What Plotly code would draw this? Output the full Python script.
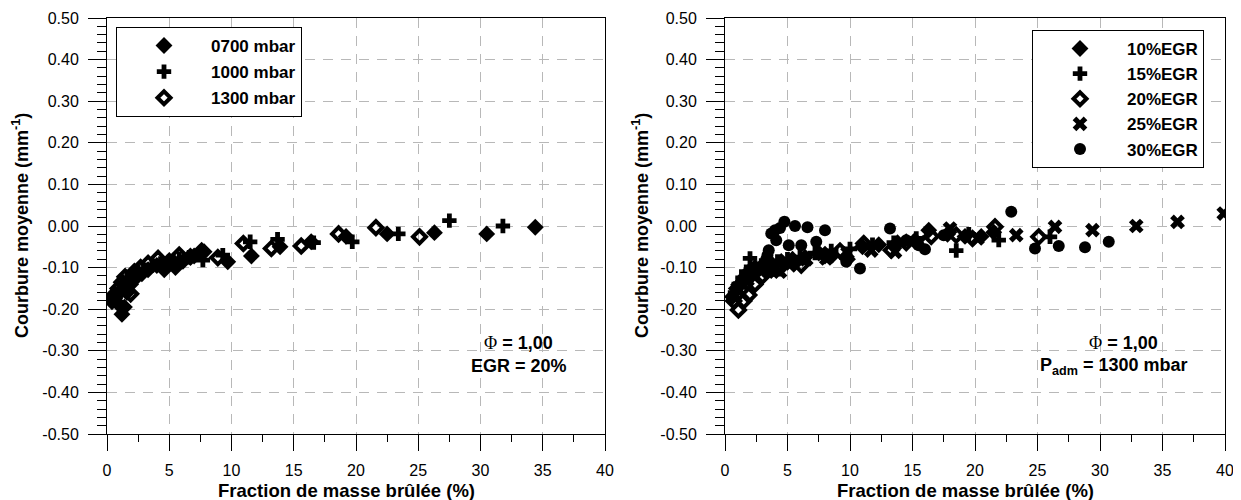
import plotly.graph_objects as go

# ---------------- data : left panel (Phi = 1.00, EGR = 20 %) ----------------
left_names = ["0700 mbar", "1000 mbar", "1300 mbar"]
p0700_x = [0.5, 0.8, 1.0, 1.2, 1.4, 1.6, 1.9, 2.3, 2.8, 3.3, 4.0, 4.6, 5.5, 6.1, 7.0,
           7.8, 9.7, 11.6, 13.9, 16.4, 19.2, 22.5, 26.3, 30.5, 34.4]
p0700_y = [-0.175, -0.165, -0.19, -0.212, -0.195, -0.16, -0.14, -0.125, -0.115, -0.105,
           -0.095, -0.105, -0.10, -0.085, -0.072, -0.062, -0.086, -0.072, -0.050, -0.038,
           -0.025, -0.019, -0.016, -0.019, -0.003]
p1000_x = [0.7, 1.0, 1.3, 1.6, 2.0, 2.5, 3.0, 3.6, 4.3, 5.0, 5.8, 6.6, 7.7, 9.3, 11.5,
           13.7, 16.6, 19.7, 23.4, 27.5, 31.8]
p1000_y = [-0.17, -0.155, -0.14, -0.13, -0.12, -0.11, -0.105, -0.095, -0.09, -0.085,
           -0.08, -0.075, -0.082, -0.07, -0.038, -0.032, -0.04, -0.038, -0.019, 0.013, 0.0]
p1300_x = [0.4, 0.6, 0.9, 1.2, 1.45, 1.9, 2.2, 2.7, 3.3, 4.1, 5.0, 5.8, 6.7, 7.6, 8.9,
           10.95, 13.2, 15.6, 18.6, 21.6, 25.1]
p1300_y = [-0.18, -0.165, -0.15, -0.135, -0.122, -0.163, -0.11, -0.10, -0.09, -0.078,
           -0.085, -0.07, -0.074, -0.06, -0.076, -0.042, -0.054, -0.048, -0.019, -0.004, -0.026]

# ---------------- data : right panel (Phi = 1.00, Padm = 1300 mbar) ----------------
right_names = ["10%EGR", "15%EGR", "20%EGR", "25%EGR", "30%EGR"]
e10_x = [0.6, 0.9, 1.2, 1.5, 1.9, 2.4, 3.0, 3.7, 4.5, 5.4, 6.4, 7.5, 8.6, 9.8, 11.0,
         12.3, 13.8, 15.2, 16.3, 17.8, 19.2, 20.5, 21.5]
e10_y = [-0.17, -0.15, -0.14, -0.125, -0.11, -0.10, -0.095, -0.09, -0.085, -0.08, -0.075,
         -0.065, -0.07, -0.08, -0.05, -0.045, -0.04, -0.035, -0.01, -0.02, -0.025, -0.025, -0.015]
e15_x = [0.8, 1.1, 1.4, 1.7, 2.0, 2.4, 2.9, 3.5, 4.2, 5.0, 6.0, 7.2, 8.5, 10.0, 11.8,
         13.5, 15.3, 18.5, 19.5, 21.9, 26.0]
e15_y = [-0.16, -0.14, -0.125, -0.11, -0.078, -0.10, -0.095, -0.09, -0.085, -0.08, -0.075,
         -0.065, -0.06, -0.055, -0.045, -0.04, -0.03, -0.059, -0.02, -0.034, -0.026]
e20_x = [0.7, 1.07, 1.5, 1.9, 2.4, 3.0, 3.7, 4.4, 5.5, 6.1, 8.0, 9.2, 11.1, 13.3, 14.5,
         16.5, 18.5, 19.8, 21.6, 25.1]
e20_y = [-0.18, -0.202, -0.18, -0.166, -0.14, -0.12, -0.105, -0.10, -0.09, -0.094, -0.07,
         -0.06, -0.042, -0.058, -0.04, -0.025, -0.022, -0.03, -0.002, -0.026]
e25_x = [1.0, 1.4, 1.8, 2.3, 2.9, 3.6, 4.4, 5.3, 6.5, 8.1, 9.8, 11.7, 13.6, 15.5, 18.0,
         20.2, 23.3, 26.4, 29.4, 32.9, 36.2, 39.9]
e25_y = [-0.15, -0.14, -0.13, -0.12, -0.11, -0.105, -0.11, -0.09, -0.08, -0.078, -0.065,
         -0.059, -0.062, -0.04, -0.006, -0.03, -0.022, -0.002, -0.01, 0.0, 0.010, 0.030]
e30_x = [3.3, 3.4, 3.5, 3.7, 4.0, 4.1, 4.4, 4.75, 5.1, 5.6, 6.1, 6.6, 7.3, 8.0, 9.7,
         10.8, 13.2, 14.5, 15.5, 16.0, 17.5, 22.9, 24.8, 26.7, 28.8, 30.7]
e30_y = [-0.08, -0.07, -0.058, -0.018, -0.01, -0.034, -0.005, 0.010, -0.046, 0.0, -0.046,
         -0.003, -0.038, -0.010, -0.086, -0.102, -0.006, -0.034, -0.046, -0.056, -0.022,
         0.034, -0.054, -0.048, -0.051, -0.038]

# ---------------- tick labels / titles ----------------
x_tickvals = [0, 5, 10, 15, 20, 25, 30, 35, 40]
x_ticktext = ["0", "5", "10", "15", "20", "25", "30", "35", "40"]
y_tickvals = [0.5, 0.4, 0.3, 0.2, 0.1, 0.0, -0.1, -0.2, -0.3, -0.4, -0.5]
y_ticktext = ["0.50", "0.40", "0.30", "0.20", "0.10", "0.00",
              "-0.10", "-0.20", "-0.30", "-0.40", "-0.50"]
x_title = "Fraction de masse brûlée (%)"
y_title = "Courbure moyenne (mm<sup>-1</sup>)"

FONT = "Liberation Sans, Arial, sans-serif"
PAGE_W, PAGE_H = 1241, 500
OFF = 8                      # default page body margin
W, H = PAGE_W - OFF, PAGE_H - OFF

# pixel geometry (page pixels)
L_X0, L_X1 = 107, 605
R_X0, R_X1 = 725, 1225
Y_TOP, Y_BOT = 18, 434


def px(x):
    return (x - OFF) / W


def py(y):
    return 1 - (y - OFF) / H


symbols = {
    "diamond": dict(symbol="diamond", size=13),
    "cross": dict(symbol="cross", size=12),
    "diamond-open": dict(symbol="diamond-open", size=10, line=dict(width=4, color="black")),
    "x": dict(symbol="x", size=13),
    "circle": dict(symbol="circle", size=12),
}

fig = go.Figure()

left_series = [(p0700_x, p0700_y, "diamond"), (p1000_x, p1000_y, "cross"),
               (p1300_x, p1300_y, "diamond-open")]
for name, (xs, ys, sym) in zip(left_names, left_series):
    fig.add_trace(go.Scatter(x=xs, y=ys, mode="markers", name=name,
                             marker=dict(color="black", **symbols[sym]),
                             xaxis="x", yaxis="y", legend="legend", legendgroup=name))

right_series = [(e10_x, e10_y, "diamond"), (e15_x, e15_y, "cross"),
                (e20_x, e20_y, "diamond-open"), (e25_x, e25_y, "x"),
                (e30_x, e30_y, "circle")]
for name, (xs, ys, sym) in zip(right_names, right_series):
    fig.add_trace(go.Scatter(x=xs, y=ys, mode="markers", name=name,
                             marker=dict(color="black", **symbols[sym]),
                             xaxis="x2", yaxis="y2", legend="legend2", legendgroup=name))

grid = dict(showgrid=True, gridcolor="#b8b8b8", gridwidth=1, griddash="10px,8px")

xax = dict(range=[0, 40], tickmode="array", tickvals=x_tickvals, ticktext=x_ticktext,
           ticks="outside", ticklen=16, tickcolor="black", automargin=False,
           ticklabelstandoff=6,
           showline=True, linecolor="black", linewidth=1, mirror=True, zeroline=False,
           tickfont=dict(family=FONT, size=16, color="black"),
           minor=dict(dtick=2.5, tick0=0, ticks="outside", ticklen=7, tickcolor="black",
                      showgrid=False),
           **grid)
yax = dict(range=[-0.5, 0.5], tickmode="array", tickvals=y_tickvals, ticktext=y_ticktext,
           ticks="outside", ticklen=18, tickcolor="black", automargin=False,
           ticklabelstandoff=6,
           showline=True, linecolor="black", linewidth=1, mirror=True,
           zeroline=False, tickfont=dict(family=FONT, size=16, color="black"),
           minor=dict(dtick=0.02, tick0=0, ticks="outside", ticklen=9, tickcolor="black",
                      showgrid=False),
           **grid)

legend_common = dict(bgcolor="white", bordercolor="black", borderwidth=1,
                     font=dict(family=FONT, size=17, color="black", weight="bold"),
                     itemwidth=84, itemclick=False, xanchor="left", yanchor="top")

fig.update_layout(
    width=W, height=H, autosize=False,
    margin=dict(l=0, r=0, t=0, b=0, autoexpand=False),
    paper_bgcolor="white", plot_bgcolor="white",
    font=dict(family=FONT, color="black"),
    xaxis=dict(domain=[px(L_X0), px(L_X1)], anchor="y", **xax),
    yaxis=dict(domain=[py(Y_BOT), py(Y_TOP)], anchor="x", **yax),
    xaxis2=dict(domain=[px(R_X0), px(R_X1)], anchor="y2", **xax),
    yaxis2=dict(domain=[py(Y_BOT), py(Y_TOP)], anchor="x2", **yax),
    legend=dict(x=px(116), y=py(27), tracegroupgap=1, **legend_common),
    legend2=dict(x=px(1032), y=py(30), tracegroupgap=0, **legend_common),
    showlegend=True,
)

ann_font = dict(family=FONT, size=18, color="black", weight="bold")
phi = "<span style='font-family:Liberation Serif;font-weight:normal'>Φ</span> = 1,00"
annotations = [
    dict(text=phi, x=px(519), y=py(343)),
    dict(text="EGR = 20%", x=px(519), y=py(366)),
    dict(text=phi, x=px(1123), y=py(343)),
    dict(text="P<sub>adm</sub> = 1300 mbar", x=px(1114), y=py(366)),
    dict(text=x_title, x=px(346), y=py(490), font_size=18.5),
    dict(text=x_title, x=px(965), y=py(490), font_size=18.5),
    dict(text=y_title, x=px(20), y=py(226), textangle=-90),
    dict(text=y_title, x=px(640), y=py(226), textangle=-90),
]
for a in annotations:
    f = dict(ann_font)
    if "font_size" in a:
        f["size"] = a.pop("font_size")
    fig.add_annotation(xref="paper", yref="paper", showarrow=False,
                       xanchor="center", yanchor="middle", font=f, **a)

fig.write_html("out.html")
